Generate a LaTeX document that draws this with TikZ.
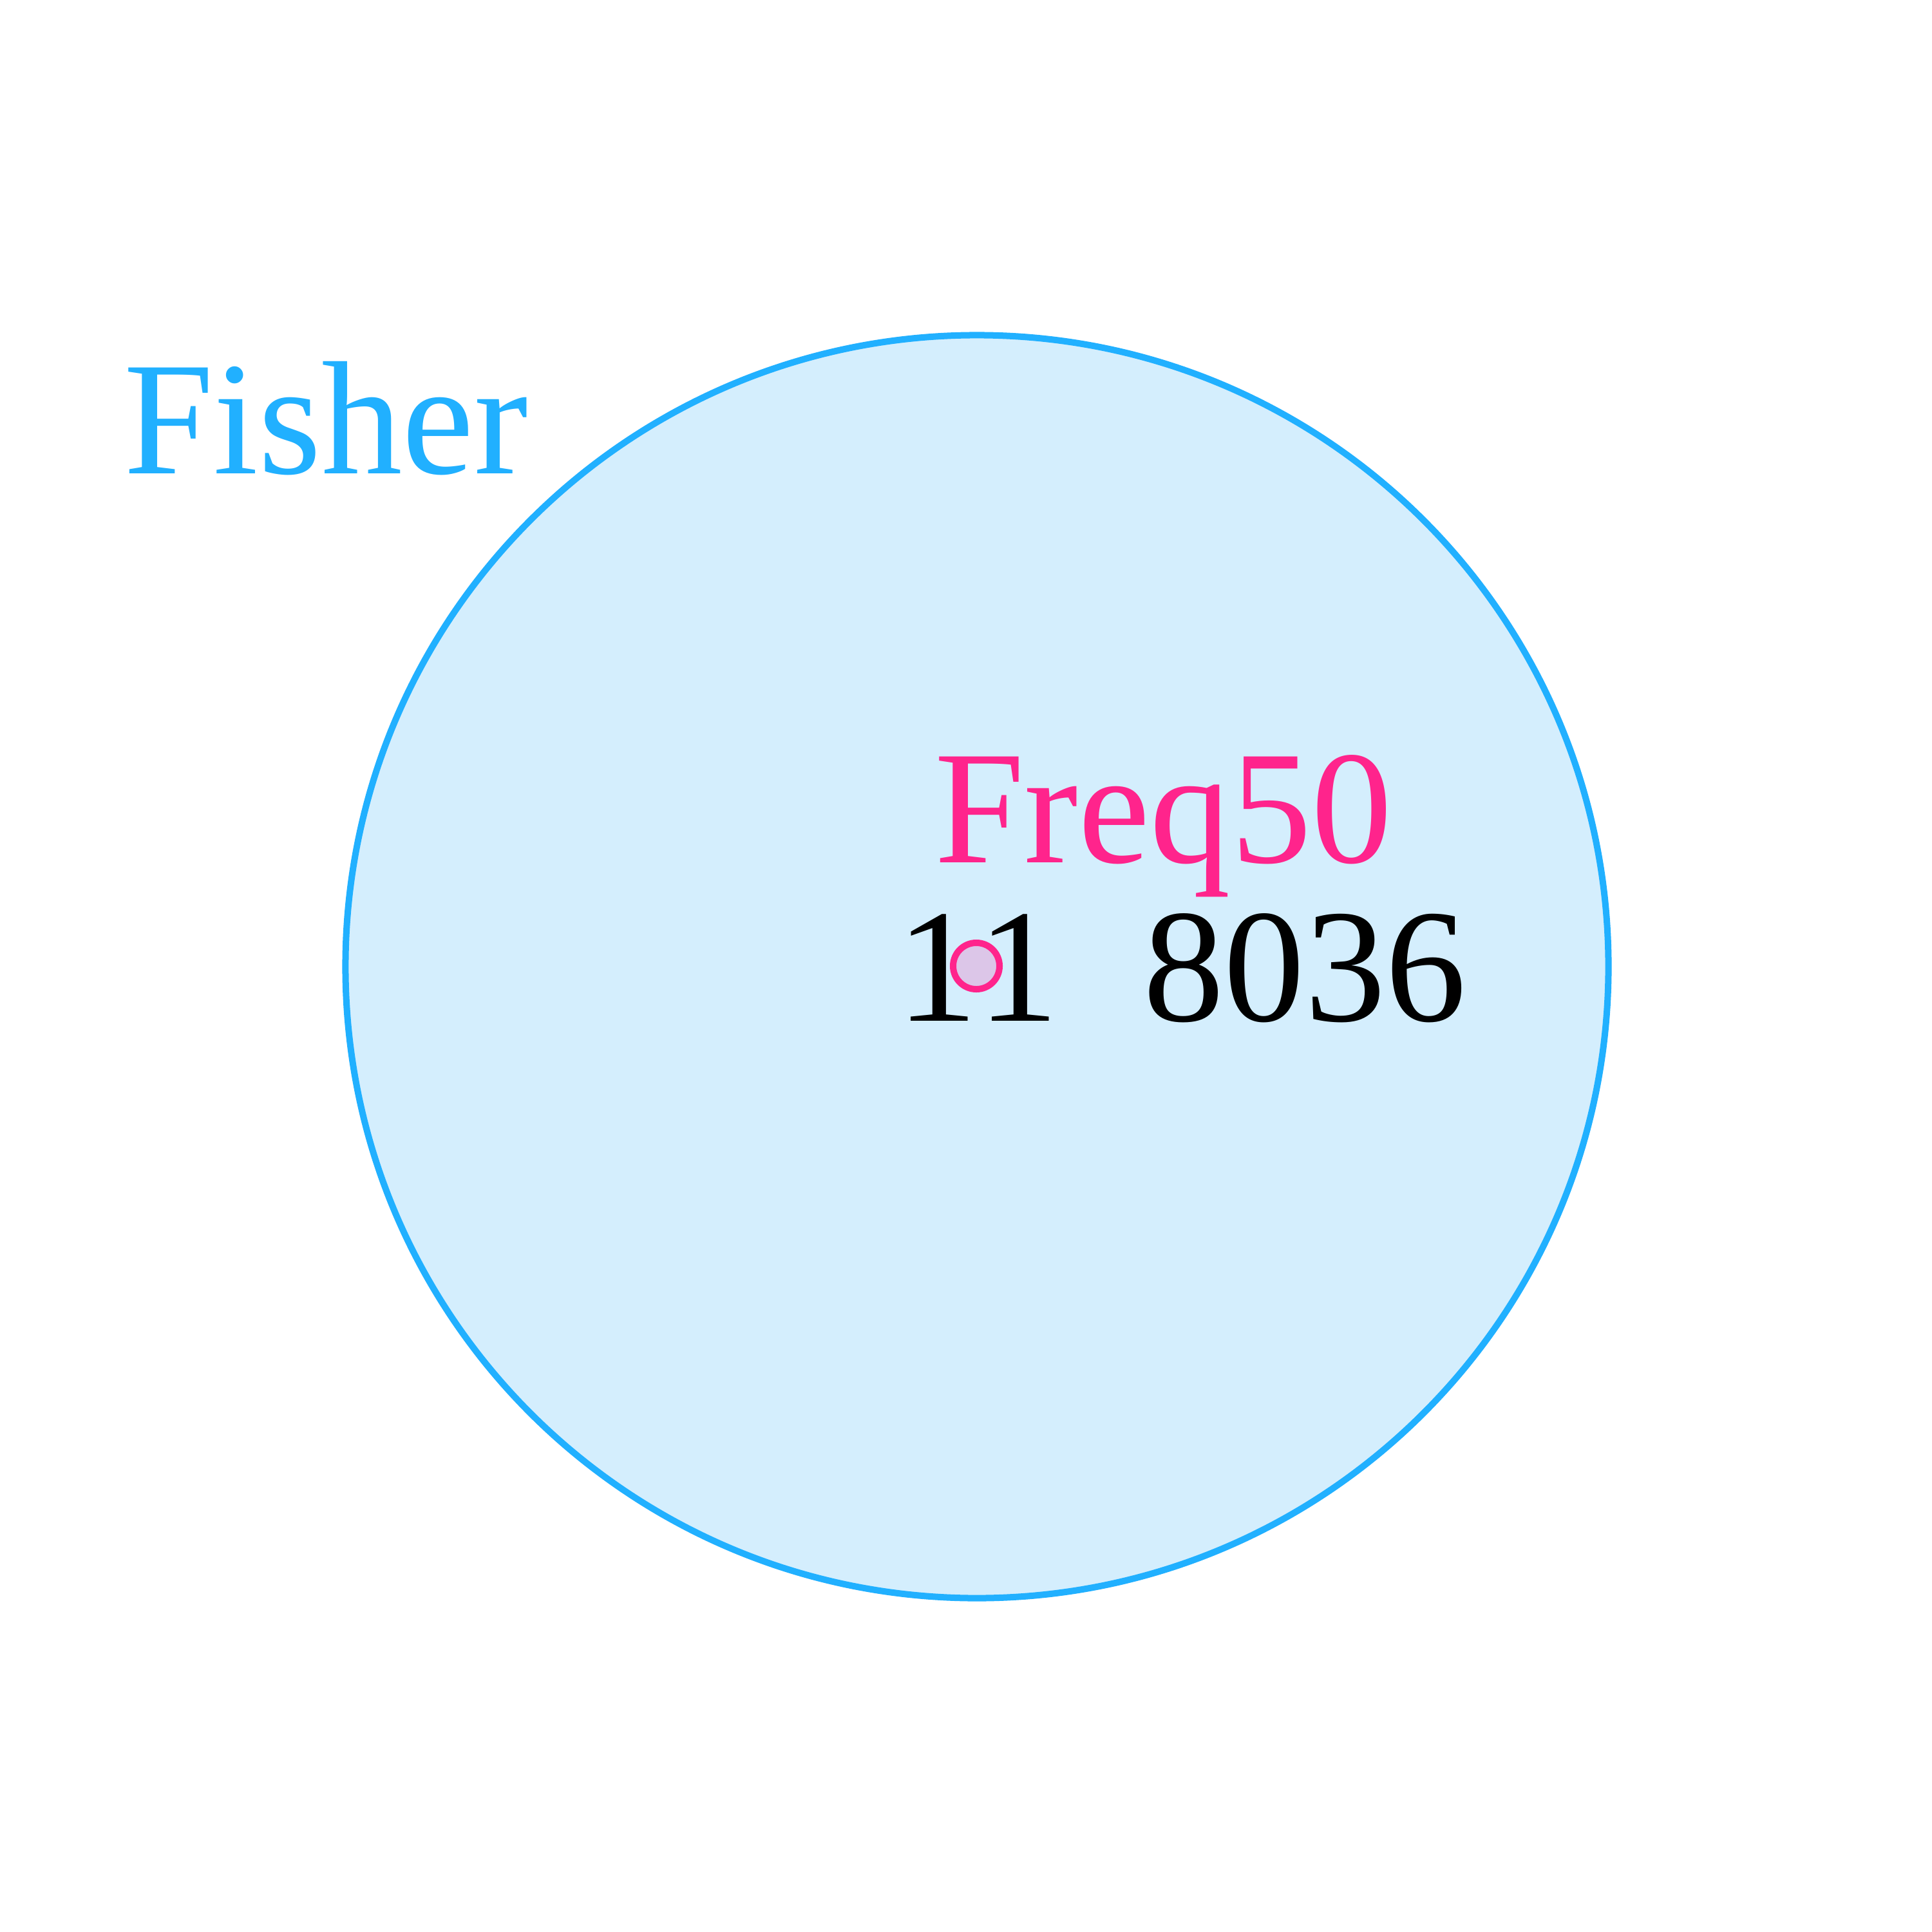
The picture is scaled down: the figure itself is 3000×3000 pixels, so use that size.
\documentclass[tikz,border=0pt]{standalone}
\usepackage{fontspec}
\setmainfont{Liberation Serif}
\definecolor{setblue}{RGB}{33,176,255}
\definecolor{setfill}{RGB}{212,238,253}
\definecolor{setpink}{RGB}{255,36,140}
\definecolor{dotfill}{RGB}{220,198,232}
\begin{document}
\begin{tikzpicture}[x=0.01cm,y=-0.01cm,
  lbl/.style={inner sep=0pt,outer sep=0pt,anchor=base west,font=\fontsize{71.4}{80}\selectfont},
  setcircle/.style={circle,draw=setblue,fill=setfill,line width=0.1cm,inner sep=0pt,minimum size=19.6cm},
  dotcircle/.style={circle,draw=setpink,fill=dotfill,line width=0.1cm,inner sep=0pt,minimum size=0.72cm}]
\useasboundingbox[fill=white] (0,0) rectangle (3000,3000);
\node[setcircle] (fisherset) at (1517,1501) {};
\node[dotcircle] (freqset) at (1516,1500) {};
\node[lbl,text=setblue] (fisherlbl) at (192,735) {Fisher};
\node[lbl,text=setpink] (freqlbl) at (1451,1339) {Freq50};
\node[lbl] (onea) at (1392,1585) {1};
\node[lbl] (oneb) at (1518,1585) {1};
\node[lbl] (big) at (1775,1585) {8036};
\end{tikzpicture}
\end{document}
